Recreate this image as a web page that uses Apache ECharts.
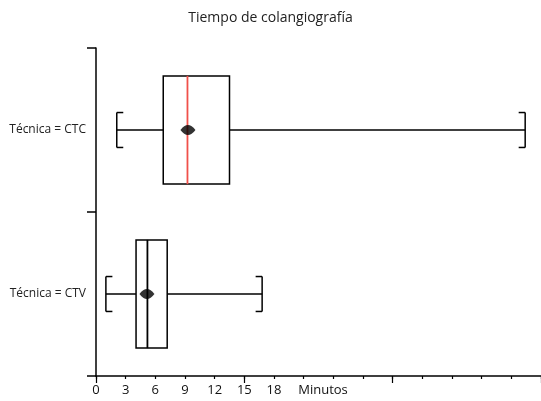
<!DOCTYPE html>
<html><head><meta charset="utf-8">
<script src="https://cdn.jsdelivr.net/npm/echarts@6/dist/echarts.min.js"></script>
<style>html,body{margin:0;padding:0;background:#fff}#c{width:541px;height:401px}</style>
</head><body><div id="c"></div>
<script>
const title = 'Tiempo de colangiografía';
const categories = ['Técnica = CTV', 'Técnica = CTC'];
const mins    = [1.0, 2.1];
const q1s     = [4.05, 6.8];
const medians = [5.2, 9.25];
const q3s     = [7.2, 13.5];
const maxs    = [16.8, 43.4];
const means   = [5.15, 9.3];
const medianColors = ['#000000', '#f0504a'];
const xLabelsShown = [0, 3, 6, 9, 12, 15, 18];
const xName = 'Minutos';

const boxData = categories.map((c, i) => [i, mins[i], q1s[i], medians[i], q3s[i], maxs[i]]);
const meanData = categories.map((c, i) => [means[i], i]);

const chart = echarts.init(document.getElementById('c'));
const FONT = '"Open Sans", "Noto Sans", sans-serif';
function renderItem(params, api) {
  const ci = api.value(0);
  const band = api.size([0, 1])[1];
  const yc = api.coord([0, ci])[1];
  const x = k => api.coord([api.value(k), ci])[0];
  const xmin = x(1), xq1 = x(2), xmed = x(3), xq3 = x(4), xmax = x(5);
  const bh = band * 0.66, ch = band * 0.213, tick = 6.5;
  const st = {stroke: '#000', lineWidth: 1.5, fill: null};
  const line = (x1, y1, x2, y2, s) => ({type: 'line', shape: {x1, y1, x2, y2}, style: s || st});
  return {type: 'group', children: [
    line(xmin, yc, xq1, yc),
    line(xq3, yc, xmax, yc),
    line(xmin, yc - ch / 2, xmin, yc + ch / 2),
    line(xmin, yc - ch / 2, xmin + tick, yc - ch / 2),
    line(xmin, yc + ch / 2, xmin + tick, yc + ch / 2),
    line(xmax, yc - ch / 2, xmax, yc + ch / 2),
    line(xmax, yc - ch / 2, xmax - tick, yc - ch / 2),
    line(xmax, yc + ch / 2, xmax - tick, yc + ch / 2),
    {type: 'rect', shape: {x: xq1, y: yc - bh / 2, width: xq3 - xq1, height: bh}, style: {stroke: '#000', lineWidth: 1.5, fill: '#fff'}},
    line(xmed, yc - bh / 2, xmed, yc + bh / 2, {stroke: medianColors[ci], lineWidth: 1.8})
  ]};
}
chart.setOption({
  animation: false,
  title: {text: title, left: 'center', top: 6, textStyle: {fontFamily: FONT, fontSize: 14, fontWeight: 'normal', color: '#222'}},
  grid: {left: 96, right: 0, top: 48, bottom: 25, containLabel: false, outerBoundsMode: 'none'},
  xAxis: [{
    type: 'value', min: 0, max: 45, interval: 3,
    axisLine: {show: true, lineStyle: {color: '#000', width: 1.5}},
    axisTick: {show: true, length: 3, lineStyle: {color: '#000', width: 1.2}},
    splitLine: {show: false},
    axisLabel: {fontFamily: FONT, fontSize: 13, color: '#111', margin: 8,
      formatter: v => xLabelsShown.includes(v) ? String(v) : ''},
    name: xName, nameLocation: 'middle', nameGap: 8, nameMoveOverlap: false,
    nameTextStyle: {fontFamily: FONT, fontSize: 13, color: '#111', verticalAlign: 'top', padding: [0, 0, 0, 9]}
  }, {
    type: 'value', min: 0, max: 45, interval: 15, position: 'bottom',
    axisLine: {show: false}, splitLine: {show: false}, axisLabel: {show: false},
    axisTick: {show: true, length: 7, lineStyle: {color: '#000', width: 1.2}}
  }],
  yAxis: {
    type: 'category', data: categories, boundaryGap: true,
    axisLine: {show: true, lineStyle: {color: '#000', width: 1.5}},
    axisTick: {show: true, length: 9, lineStyle: {color: '#000', width: 1.5}},
    axisLabel: {fontFamily: FONT, fontSize: 12, color: '#222', margin: 10},
    splitLine: {show: false}
  },
  series: [{
    type: 'custom', renderItem, data: boxData, encode: {x: [1, 2, 3, 4, 5], y: 0}, z: 2
  }, {
    type: 'scatter', data: meanData,
    symbol: 'path://M0,5 Q5,0 10,0 Q15,0 20,5 Q15,10 10,10 Q5,10 0,5 Z', symbolSize: [15, 10],
    itemStyle: {color: '#000'}, z: 5
  }]
});
</script></body></html>
